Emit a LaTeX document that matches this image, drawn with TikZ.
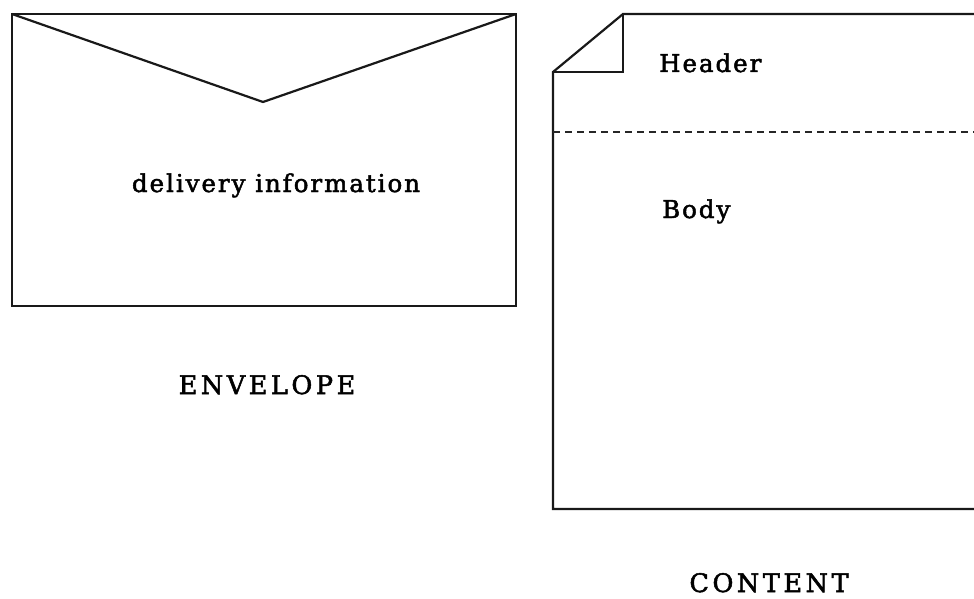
\documentclass[tikz,border=0pt]{standalone}
\usepackage{fontspec}
\setmainfont{DejaVu Serif}[FakeBold=2]
\newfontfamily\lowerlabel{DejaVu Serif}[LetterSpace=8,FakeBold=2]
\newfontfamily\capslabel{DejaVu Serif}[LetterSpace=14,FakeBold=2]
\begin{document}
\begin{tikzpicture}[x=1pt,y=-1pt,
  outline/.style={draw=black!90,line width=2.2pt,line join=miter},
  label/.style={inner sep=0pt,text=black},
  lowtext/.style={label,font=\lowerlabel\fontsize{24.5}{28}\selectfont},
  captext/.style={label,font=\capslabel\fontsize{25.5}{29}\selectfont}]
  \useasboundingbox (0,0) rectangle (974,599);
  % envelope with its flap
  \draw[outline] (12,14) rectangle (516,306);
  \draw[outline] (12,14) -- (263,102) -- (516,14);
  \node[lowtext,anchor=base] (delivery) at (276,192) {delivery information};
  \node[captext,anchor=base] (envelope) at (267,394) {ENVELOPE};
  % page with a folded corner, running off the right side
  \draw[outline] (980,14) -- (623,14) -- (553,72) -- (553,509) -- (980,509);
  \draw[outline] (553,72) -- (623,72) -- (623,14);
  \draw[draw=black!85,line width=1.5pt,dash pattern=on 7pt off 5pt] (553,132) -- (974,132);
  \node[lowtext,anchor=base west] (header) at (659,72) {Header};
  \node[lowtext,anchor=base west] (body) at (662,218) {Body};
  \node[captext,anchor=base] (content) at (769,592) {CONTENT};
\end{tikzpicture}
\end{document}
